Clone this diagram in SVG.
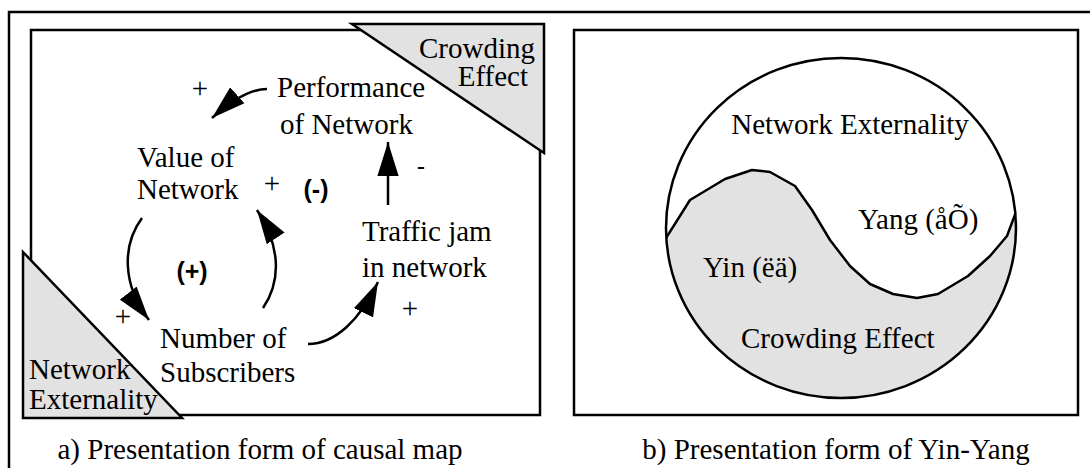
<svg xmlns="http://www.w3.org/2000/svg" width="1090" height="468" viewBox="0 0 1090 468">
<defs>
<style>
.frame{fill:none;stroke:#000;stroke-width:2.5}
.tri{fill:#e2e2e2;stroke:#000;stroke-width:2.5;stroke-linejoin:miter}
.t{font-family:"Liberation Serif","Times New Roman",serif;font-size:29px;fill:#000}
.s{font-family:"Liberation Sans",Arial,sans-serif;font-size:25px;fill:#000}
.c{fill:none;stroke:#000;stroke-width:2.5}
</style>
<marker id="ah" markerUnits="userSpaceOnUse" markerWidth="34" markerHeight="22" refX="32" refY="10" orient="auto" viewBox="0 0 32 20">
<path d="M0,0 L32,10 L0,20 z" fill="#000"/>
</marker>
<clipPath id="circ">
<ellipse cx="841" cy="228" rx="175" ry="170"/>
</clipPath>
</defs>
<rect width="1090" height="468" fill="#fff"/>
<rect class="frame" x="9" y="12" width="1100" height="500"/>

<g id="panel-a">
<rect class="frame" x="31" y="30" width="509" height="385"/>
<g id="crowding-corner">
<polygon class="tri" points="352,24 544,24 544,153"/>
<text class="t" x="535" y="58" text-anchor="end">Crowding</text>
<text class="t" x="528" y="86" text-anchor="end">Effect</text>
</g>
<g id="externality-corner">
<polygon class="tri" points="23,252 23,418 182,418"/>
<text class="t" x="29" y="379">Network</text>
<text class="t" x="29" y="409">Externality</text>
</g>
<g id="performance">
<text class="t" x="277" y="97">Performance</text>
<text class="t" x="280" y="134">of Network</text>
</g>
<g id="value">
<text class="t" x="137" y="167">Value of</text>
<text class="t" x="137" y="199">Network</text>
</g>
<g id="traffic">
<text class="t" x="362" y="241">Traffic jam</text>
<text class="t" x="362" y="277">in network</text>
</g>
<g id="subscribers">
<text class="t" x="160" y="348">Number of</text>
<text class="t" x="160" y="382">Subscribers</text>
</g>
<g id="connectors">
<path class="c" d="M267,89 C250,89 232,100 212,118" marker-end="url(#ah)"/>
<path class="c" d="M388,205 L388,142" marker-end="url(#ah)"/>
<path class="c" d="M142,218 C122,245 122,285 149,320" marker-end="url(#ah)"/>
<path class="c" d="M263,308 C282,280 280,245 257,210" marker-end="url(#ah)"/>
<path class="c" d="M308,344 C335,344 360,320 378,282" marker-end="url(#ah)"/>
</g>
<g id="polarity">
<text class="t" x="200" y="98" text-anchor="middle">+</text>
<text class="t" x="272" y="193" text-anchor="middle">+</text>
<text class="t" x="123" y="326" text-anchor="middle">+</text>
<text class="t" x="410" y="318" text-anchor="middle">+</text>
<text class="s" x="421" y="175" text-anchor="middle">-</text>
<text class="s" x="316" y="198" text-anchor="middle" font-weight="bold">(-)</text>
<text class="s" x="192" y="280" text-anchor="middle" font-weight="bold">(+)</text>
</g>
<text class="t" x="260" y="459" text-anchor="middle">a) Presentation form of causal map</text>
</g>

<g id="panel-b">
<rect class="frame" x="574" y="30" width="504" height="385"/>
<g id="yinyang">
<ellipse cx="841" cy="228" rx="175" ry="170" fill="#fff"/>
<path clip-path="url(#circ)" d="M660,240 L666,238 L690,200 L725,179 L752,170 L770,172 L795,186 L812,210 L830,240 L850,266 L870,284 L893,294 L917,298 L938,294 L968,276 L990,256 L1007,236 L1016,212 L1030,200 L1030,410 L650,410 z" fill="#e2e2e2"/>
<polyline clip-path="url(#circ)" points="662,244 666,238 690,200 725,179 752,170 770,172 795,186 812,210 830,240 850,266 870,284 893,294 917,298 938,294 968,276 990,256 1007,236 1016,212 1020,205" fill="none" stroke="#000" stroke-width="2.5" stroke-linejoin="round"/>
<ellipse cx="841" cy="228" rx="175" ry="170" fill="none" stroke="#000" stroke-width="2.5"/>
</g>
<text class="t" x="850" y="134" text-anchor="middle">Network Externality</text>
<text class="t" x="858" y="229">Yang (åÕ)</text>
<text class="t" x="703" y="277">Yin (ëä)</text>
<text class="t" x="741" y="348">Crowding Effect</text>
<text class="t" x="836" y="459" text-anchor="middle">b) Presentation form of Yin-Yang</text>
</g>
</svg>
